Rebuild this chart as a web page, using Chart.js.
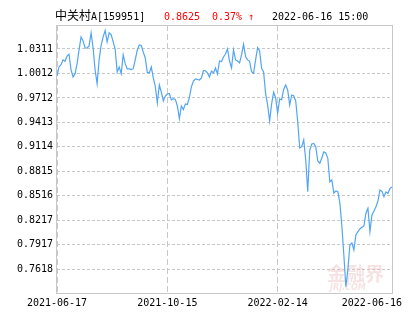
<!DOCTYPE html>
<html>
<head>
<meta charset="utf-8">
<script src="https://cdn.jsdelivr.net/npm/chart.js@4"></script>
<style>
  html, body { margin: 0; padding: 0; background: #fff; }
  canvas { display: block; }
</style>
</head>
<body>
<canvas id="chartFondo" width="415" height="330"></canvas>
<script>
// Datos del gráfico (valor neto diario)
const prices = [
  0.9981, 1.0091, 1.0119, 1.0177, 1.0161, 1.0225, 1.0246, 1.0054, 0.9969, 1.0009,
  1.0128, 1.0299, 1.0458, 1.0409, 1.0323, 1.0323, 1.0348, 1.0507, 1.0323, 1.0054,
  0.9887, 1.0177, 1.0356, 1.0458, 1.0537, 1.0397, 1.0507, 1.0486, 1.0397, 1.0307,
  1.0030, 1.0091, 1.0009, 1.0238, 1.0131, 1.0067, 1.0067, 1.0060, 1.0070, 1.0177,
  1.0295, 1.0360, 1.0354, 1.0274, 1.0201, 1.0024, 1.0018, 1.0091, 0.9957, 0.9855,
  0.9651, 0.9871, 0.9785, 0.9675, 0.9736, 0.9761, 0.9767, 0.9688, 0.9703, 0.9694,
  0.9614, 0.9459, 0.9614, 0.9571, 0.9639, 0.9632, 0.9718, 0.9847, 0.9920, 0.9944,
  0.9938, 0.9932, 0.9957, 1.0046, 1.0045, 1.0018, 0.9969, 1.0042, 1.0018, 1.0079,
  1.0005, 1.0164, 1.0158, 1.0213, 1.0250, 1.0311, 1.0164, 1.0079, 1.0299, 1.0177,
  1.0164, 1.0140, 1.0238, 1.0368, 1.0217, 1.0177, 1.0160, 1.0034, 1.0014, 1.0177,
  1.0327, 1.0287, 1.0075, 1.0030, 0.9761, 0.9626, 0.9431, 0.9639, 0.9782, 0.9712,
  0.9525, 0.9700, 0.9692, 0.9816, 0.9871, 0.9810, 0.9626, 0.9749, 0.9740, 0.9675,
  0.9422, 0.9101, 0.9117, 0.9199, 0.8954, 0.8567, 0.9076, 0.9150, 0.9156, 0.9117,
  0.8942, 0.8914, 0.8979, 0.9052, 0.9040, 0.8975, 0.8685, 0.8710, 0.8551, 0.8575,
  0.8567, 0.8429, 0.8147, 0.7793, 0.7405, 0.7610, 0.7915, 0.7940, 0.7854, 0.8037,
  0.8078, 0.8111, 0.8131, 0.8147, 0.8303, 0.8364, 0.8078, 0.8282, 0.8331, 0.8383,
  0.8453, 0.8587, 0.8570, 0.8506, 0.8563, 0.8547, 0.8606, 0.8625
];
const xTickIdx = [0, 55, 110, 167];
const xTickLabels = ['2021-06-17', '2021-10-15', '2022-02-14', '2022-06-16'];
const yTicks = [0.7618, 0.7917, 0.8217, 0.8516, 0.8815, 0.9114, 0.9413, 0.9712, 1.0012, 1.0311];
const yMin = 0.7328;
const yMax = 1.0604;

// Cabecera
const fundName = '中关村';
const fundCode = 'A[159951]';
const lastValue = '0.8625';
const change = '0.37% ↑';
const stamp = '2022-06-16 15:00';

const MONO = '"DejaVu Sans Mono", "Liberation Mono", monospace';
const CJK = '"Noto Sans CJK SC", "Noto Sans", sans-serif';

document.addEventListener("DOMContentLoaded", function() {

    // Marco, cabecera, etiquetas del eje X y marca de agua
    const decoraciones = {
        id: 'decoraciones',
        beforeDatasetsDraw(chart) {
            const ctx = chart.ctx;
            ctx.save();
            ctx.fillStyle = 'rgba(235, 190, 190, 0.45)';
            ctx.font = 'bold 19px ' + CJK;
            ctx.textBaseline = 'alphabetic';
            ctx.textAlign = 'left';
            ctx.fillText('金融界', 327, 281);
            ctx.font = 'italic bold 8px "DejaVu Sans", sans-serif';
            ctx.fillText('JRJ.COM', 330, 290);
            ctx.restore();
        },
        afterDraw(chart) {
            const ctx = chart.ctx;
            const a = chart.chartArea;
            ctx.save();

            // marco gris
            ctx.strokeStyle = '#c8c8c8';
            ctx.lineWidth = 1;
            ctx.strokeRect(a.left - 0.5, a.top + 0.5, a.right - a.left + 1, a.bottom - a.top);

            // cabecera
            ctx.textBaseline = 'alphabetic';
            ctx.textAlign = 'left';
            ctx.fillStyle = '#000';
            ctx.font = '12px ' + CJK;
            ctx.fillText(fundName, 55, 20);
            ctx.font = '10px ' + MONO;
            ctx.fillText(fundCode, 91, 20);
            ctx.fillStyle = '#ff0000';
            ctx.fillText(lastValue, 164, 20);
            ctx.fillText(change, 212, 20);
            ctx.fillStyle = '#000';
            ctx.fillText(stamp, 272, 20);

            // etiquetas del eje X
            const xScale = chart.scales.x;
            ctx.font = '10px ' + MONO;
            ctx.textBaseline = 'middle';
            const limite = chart.width - 13;
            xTickIdx.forEach(function(idx, i) {
                const px = xScale.getPixelForValue(idx);
                const w = ctx.measureText(xTickLabels[i]).width;
                if (px + w / 2 > limite) {
                    ctx.textAlign = 'right';
                    ctx.fillText(xTickLabels[i], limite, a.bottom + 10);
                } else {
                    ctx.textAlign = 'center';
                    ctx.fillText(xTickLabels[i], px, a.bottom + 10);
                }
            });
            ctx.restore();
        }
    };

    const ctxFondo = document.getElementById('chartFondo').getContext('2d');
    const chartFondo = new Chart(ctxFondo, {
        type: 'line',
        data: {
            labels: prices.map(function(_, i) { return i; }),
            datasets: [{
                data: prices,
                borderColor: 'rgb(82, 165, 245)',
                borderWidth: 1.2,
                pointRadius: 0,
                tension: 0,
                fill: false
            }]
        },
        options: {
            responsive: false,
            animation: false,
            devicePixelRatio: 1,
            layout: { padding: { top: 25, right: 23, left: 0, bottom: 0 } },
            plugins: {
                legend: { display: false },
                tooltip: { enabled: false }
            },
            scales: {
                x: {
                    type: 'category',
                    afterBuildTicks: function(scale) {
                        scale.ticks = xTickIdx.map(function(v) { return { value: v }; });
                    },
                    afterFit: function(scale) { scale.height = 37; },
                    grid: { color: '#c8c8c8', drawTicks: false },
                    border: { display: false, dash: [6, 3] },
                    ticks: { display: false, autoSkip: false }
                },
                y: {
                    type: 'linear',
                    min: yMin,
                    max: yMax,
                    afterBuildTicks: function(scale) {
                        scale.ticks = yTicks.map(function(v) { return { value: v }; });
                    },
                    afterFit: function(scale) { scale.width = 57; },
                    grid: { color: '#c8c8c8', drawTicks: false },
                    border: { display: false, dash: [3, 2] },
                    ticks: {
                        padding: 4,
                        color: '#000',
                        font: { family: MONO, size: 10 },
                        callback: function(v) { return Number(v).toFixed(4); }
                    }
                }
            }
        },
        plugins: [decoraciones]
    });

});
</script>
</body>
</html>
